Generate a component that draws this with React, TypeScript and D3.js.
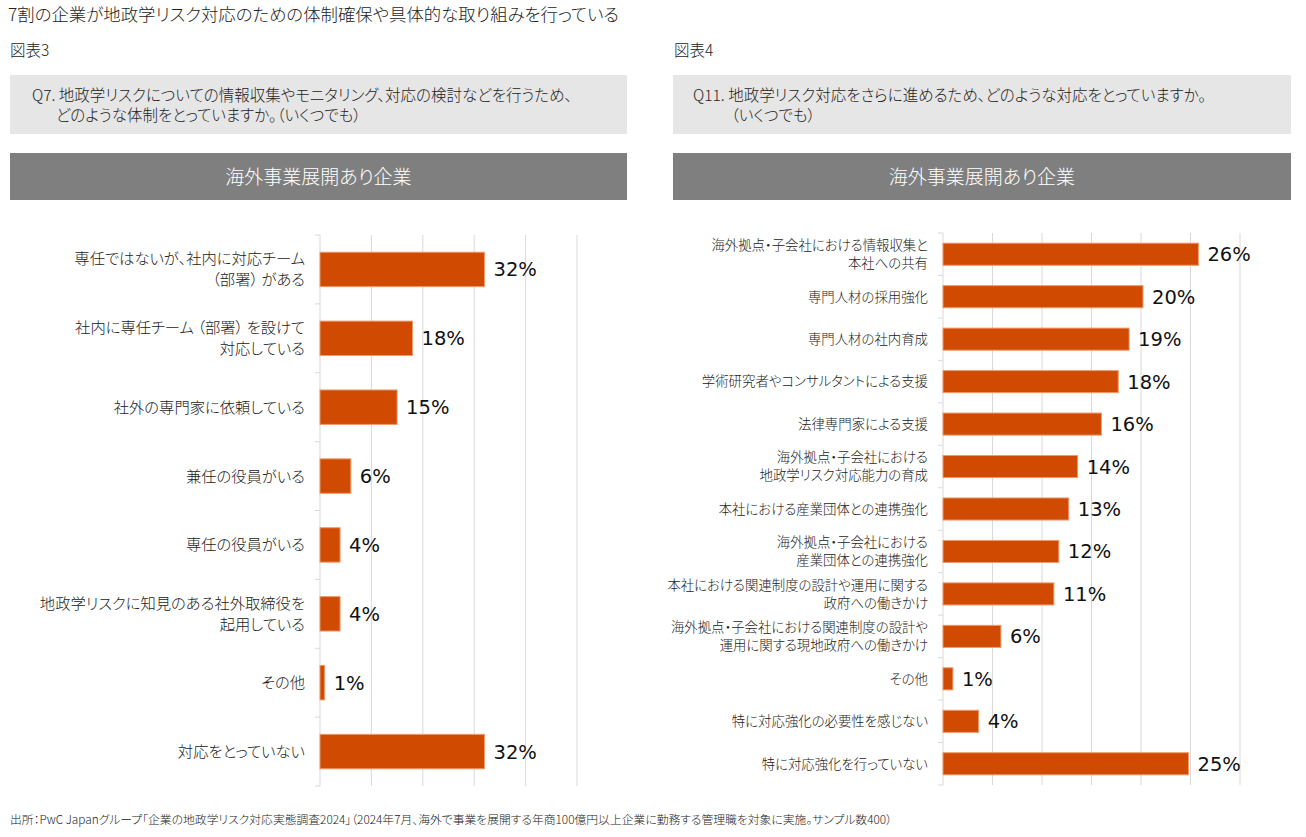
import React from "react";
import * as d3 from "d3";

const titleText = "7割の企業が地政学リスク対応のための体制確保や具体的な取り組みを行っている";
const leftFigure = "図表3";
const rightFigure = "図表4";
const leftQuestion = ["Q7. 地政学リスクについての情報収集やモニタリング、対応の検討などを行うため、", "どのような体制をとっていますか。（いくつでも）"];
const rightQuestion = ["Q11. 地政学リスク対応をさらに進めるため、どのような対応をとっていますか。", "（いくつでも）"];
const segmentTitle = "海外事業展開あり企業";
const footerText = "出所：PwC Japanグループ「企業の地政学リスク対応実態調査2024」（2024年7月、海外で事業を展開する年商100億円以上企業に勤務する管理職を対象に実施。サンプル数400）";

const leftCategories = [
  "専任ではないが、社内に対応チーム\n（部署） がある",
  "社内に専任チーム （部署） を設けて\n対応している",
  "社外の専門家に依頼している",
  "兼任の役員がいる",
  "専任の役員がいる",
  "地政学リスクに知見のある社外取締役を\n起用している",
  "その他",
  "対応をとっていない",
];
const leftValues = [32.0, 18.0, 15.0, 6.0, 3.9, 3.9, 0.9, 32.0];
const leftTicks = [0, 10, 20, 30, 40, 50];

const rightCategories = [
  "海外拠点・子会社における情報収集と\n本社への共有",
  "専門人材の採用強化",
  "専門人材の社内育成",
  "学術研究者やコンサルタントによる支援",
  "法律専門家による支援",
  "海外拠点・子会社における\n地政学リスク対応能力の育成",
  "本社における産業団体との連携強化",
  "海外拠点・子会社における\n産業団体との連携強化",
  "本社における関連制度の設計や運用に関する\n政府への働きかけ",
  "海外拠点・子会社における関連制度の設計や\n運用に関する現地政府への働きかけ",
  "その他",
  "特に対応強化の必要性を感じない",
  "特に対応強化を行っていない",
];
const rightValues = [25.8, 20.2, 18.8, 17.7, 16.0, 13.6, 12.7, 11.7, 11.2, 5.85, 1.0, 3.6, 24.8];
const rightTicks = [0, 5, 10, 15, 20, 25, 30];

const JP = "'Noto Sans CJK JP', 'Noto Sans', sans-serif";
const NUM = "'DejaVu Sans', sans-serif";
const BAR = "#D04A02";
const GRID = "#d9d9d9";
const jpStyle: React.CSSProperties = { fontFeatureSettings: "'palt'" };
const W = 300;

type PanelProps = {
  categories: string[];
  values: number[];
  ticks: number[];
  xRange: [number, number];
  yRange: [number, number];
  padding: number;
  labelSize: number;
  lineHeight: number;
  valueSize: number;
};

function Panel({ categories, values, ticks, xRange, yRange, padding, labelSize, lineHeight, valueSize }: PanelProps) {
  const x = d3.scaleLinear().domain([ticks[0], ticks[ticks.length - 1]]).range(xRange);
  const band = d3.scaleBand<number>().domain(d3.range(categories.length)).range(yRange);
  const y = d3.scaleBand<number>().domain(d3.range(categories.length)).range(yRange).paddingInner(padding).paddingOuter(padding / 2);
  const x0 = x(0);
  return (
    <g>
      {ticks.slice(1).map((t) => (
        <line key={t} x1={x(t)} x2={x(t)} y1={yRange[0]} y2={yRange[1]} stroke={GRID} strokeWidth={1} />
      ))}
      <line x1={x0} x2={x0} y1={yRange[0]} y2={yRange[1]} stroke={GRID} strokeWidth={1} />
      {d3.range(categories.length + 1).map((i) => {
        const yy = yRange[0] + i * band.step();
        return <line key={i} x1={x0 - 5} x2={x0} y1={yy} y2={yy} stroke={GRID} strokeWidth={1} />;
      })}
      {values.map((v, i) => {
        const cy = (band(i) as number) + band.bandwidth() / 2;
        const lines = categories[i].split("\n");
        const startY = cy - ((lines.length - 1) * lineHeight) / 2;
        return (
          <g key={i}>
            <rect x={x0} y={y(i)} width={x(v) - x0} height={y.bandwidth()} fill={BAR} stroke="#ee9a6a" strokeWidth={1} />
            <text x={x(v) + 9} y={cy} dy="0.36em" fontFamily={NUM} fontSize={valueSize} fill="#111">
              {Math.round(v)}%
            </text>
            <text x={x0 - 15} textAnchor="end" fontFamily={JP} fontWeight={W} style={jpStyle} fontSize={labelSize} fill="#222">
              {lines.map((l, k) => (
                <tspan key={k} x={x0 - 15} y={startY + k * lineHeight} dy="0.36em">
                  {l}
                </tspan>
              ))}
            </text>
          </g>
        );
      })}
    </g>
  );
}

export default function App() {
  return (
    <div style={{ position: "absolute", left: 0, top: 0 }}>
      <svg width={1306} height={837} style={{ display: "block", background: "#fff" }}>
        <g fontFamily={JP} fontWeight={W} style={jpStyle} fill="#222">
          <text x={8} y={21} fontSize={17.4}>{titleText}</text>
          <text x={10} y={56} fontSize={15.5}>{leftFigure}</text>
          <text x={674} y={56} fontSize={15.5}>{rightFigure}</text>

          <rect x={10} y={75} width={617} height={59} fill="#e7e6e6" />
          <rect x={673} y={75} width={618} height={59} fill="#e7e6e6" />
          <text fontSize={15.5}>
            <tspan x={32} y={101}>{leftQuestion[0]}</tspan>
            <tspan x={56} y={121}>{leftQuestion[1]}</tspan>
          </text>
          <text fontSize={15.5}>
            <tspan x={693} y={101}>{rightQuestion[0]}</tspan>
            <tspan x={731} y={121}>{rightQuestion[1]}</tspan>
          </text>

          <rect x={10} y={153} width={617} height={47} fill="#7f7f7f" />
          <rect x={673} y={153} width={618} height={47} fill="#7f7f7f" />
          <text x={318.5} y={177} dy="0.36em" textAnchor="middle" fontSize={19} fill="#fff">{segmentTitle}</text>
          <text x={982} y={177} dy="0.36em" textAnchor="middle" fontSize={19} fill="#fff">{segmentTitle}</text>

          <text x={10} y={824} fontSize={11.8}>{footerText}</text>
        </g>

        <Panel
          categories={leftCategories}
          values={leftValues}
          ticks={leftTicks}
          xRange={[320, 577]}
          yRange={[235, 786]}
          padding={0.5}
          labelSize={15.3}
          lineHeight={21}
          valueSize={19.5}
        />
        <Panel
          categories={rightCategories}
          values={rightValues}
          ticks={rightTicks}
          xRange={[943, 1240]}
          yRange={[233, 785]}
          padding={0.48}
          labelSize={13.4}
          lineHeight={18}
          valueSize={19.5}
        />
      </svg>
    </div>
  );
}
